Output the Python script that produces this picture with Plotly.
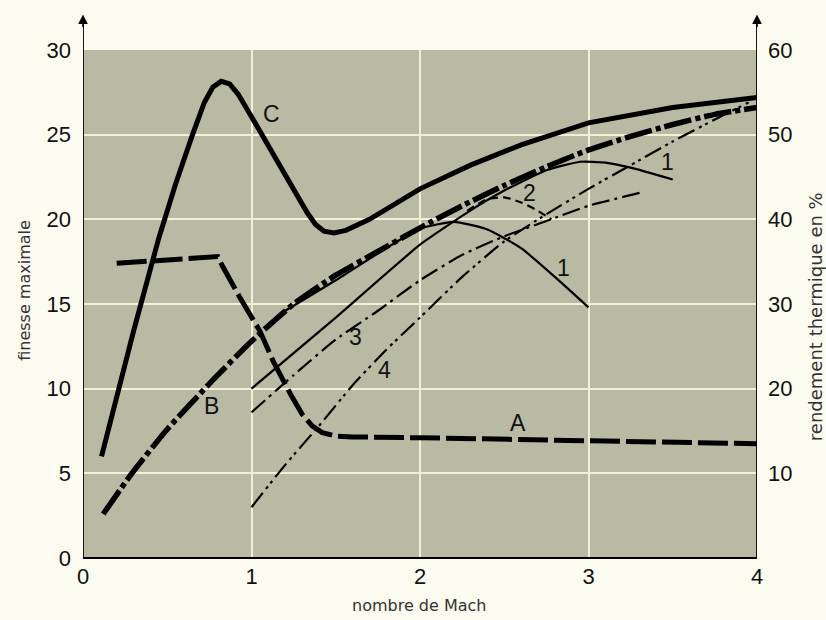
import plotly.graph_objects as go

# ---- data (Mach number vs finesse maximale) ----
c_x = [0.11, 0.3, 0.45, 0.55, 0.65, 0.72, 0.77, 0.82, 0.87, 0.92, 0.98, 1.05, 1.2, 1.33, 1.38, 1.43, 1.49, 1.56, 1.7, 1.85, 2.0, 2.3, 2.6, 3.0, 3.5, 4.0]
c_y = [6.0, 13.4, 18.9, 22.1, 25.0, 26.9, 27.8, 28.15, 28.0, 27.4, 26.4, 25.2, 22.6, 20.4, 19.7, 19.3, 19.2, 19.35, 20.0, 20.9, 21.8, 23.2, 24.4, 25.7, 26.6, 27.2]

b_x = [0.12, 0.29, 0.5, 0.77, 1.0, 1.25, 1.5, 1.75, 2.0, 2.25, 2.5, 2.75, 3.0, 3.25, 3.5, 3.75, 4.0]
b_y = [2.6, 5.0, 7.6, 10.5, 12.8, 15.0, 16.7, 18.1, 19.5, 20.8, 22.0, 23.1, 24.1, 24.9, 25.6, 26.2, 26.6]

a_x = [0.2, 0.5, 0.8, 0.83, 0.93, 1.05, 1.13, 1.23, 1.3, 1.36, 1.42, 1.5, 1.6, 2.0, 2.5, 3.0, 3.5, 4.0]
a_y = [17.4, 17.6, 17.8, 17.2, 15.4, 13.4, 11.6, 9.7, 8.5, 7.8, 7.4, 7.2, 7.15, 7.1, 7.0, 6.9, 6.8, 6.75]

# thin solid curve "1" (lower, peak near Mach 2.2)
l1_x = [1.2, 1.5, 1.8, 2.0, 2.2, 2.4, 2.6, 2.8, 3.0]
l1_y = [14.6, 16.4, 18.3, 19.45, 19.85, 19.4, 18.3, 16.6, 14.8]

# thin solid curve "1" (upper, peak near Mach 2.95)
u1_x = [1.0, 1.5, 2.0, 2.28, 2.5, 2.75, 2.95, 3.1, 3.25, 3.5]
u1_y = [10.0, 14.2, 18.5, 20.4, 21.7, 22.9, 23.4, 23.35, 23.05, 22.35]

# dashed curve "2"
d2_x = [2.28, 2.4, 2.5, 2.6, 2.7, 2.78]
d2_y = [20.5, 21.2, 21.3, 21.0, 20.5, 20.0]

# dash-dot curve "3"
c3_x = [1.0, 1.25, 1.5, 1.75, 2.0, 2.25, 2.5, 2.75, 3.0, 3.32]
c3_y = [8.6, 10.8, 12.9, 14.6, 16.4, 17.9, 19.0, 19.9, 20.8, 21.6]

# dash-dot-dot curve "4"
c4_x = [1.0, 1.2, 1.4, 1.6, 1.8, 2.0, 2.25, 2.5, 2.75, 3.0, 3.25, 3.5, 3.75, 3.95]
c4_y = [3.0, 5.5, 7.8, 10.2, 12.3, 14.2, 16.6, 18.7, 20.3, 21.8, 23.2, 24.6, 25.9, 26.9]

x_ticks = [0, 1, 2, 3, 4]
left_ticks = [0, 5, 10, 15, 20, 25, 30]
right_ticks = [10, 20, 30, 40, 50, 60]

curve_labels = ["C", "B", "A", "3", "4", "1", "2", "1"]
label_x = [1.12, 0.76, 2.58, 1.62, 1.79, 2.85, 2.65, 3.47]
label_y = [26.2, 9.0, 8.0, 13.05, 11.1, 17.1, 21.55, 23.4]

FONT = "Liberation Sans"
TFONT = "DejaVu Sans"
BG = "#b9baa3"
PAPER = "#fcfbef"
GRID = "#f4f0d8"

fig = go.Figure()

def add(x, y, width, dash, shape="linear"):
    fig.add_trace(go.Scatter(x=x, y=y, mode="lines",
                             line=dict(color="black", width=width, dash=dash, shape=shape, smoothing=0.5),
                             showlegend=False, hoverinfo="skip"))

add(c_x, c_y, 5, "solid")
add(b_x, b_y, 5.5, "28px,4px,5px,4px", shape="spline")
add(a_x, a_y, 5, "30px,6px")
add(l1_x, l1_y, 2.2, "solid", shape="spline")
add(u1_x, u1_y, 2.2, "solid", shape="spline")
add(d2_x, d2_y, 2.2, "8px,5px", shape="spline")
add(c3_x, c3_y, 2.2, "18px,5px,3px,5px", shape="spline")
add(c4_x, c4_y, 2.2, "18px,5px,3px,4px,3px,5px", shape="spline")

# invisible trace for secondary axis
fig.add_trace(go.Scatter(x=[0, 4], y=[0, 60], yaxis="y2", mode="lines",
                         line=dict(width=0), opacity=0, showlegend=False, hoverinfo="skip"))

for t, lx, ly in zip(curve_labels, label_x, label_y):
    fig.add_annotation(x=lx, y=ly, text=t, showarrow=False,
                       font=dict(family=FONT, size=23, color="#111"))

# axis arrows (left and right)
for xx in [0, 4]:
    fig.add_shape(type="line", xref="x", yref="paper", x0=xx, x1=xx, y0=0, y1=1.06,
                  line=dict(color="black", width=1.8))
    fig.add_annotation(x=xx, y=1.07, xref="x", yref="paper", text="", showarrow=True,
                       ax=0, ay=14, arrowhead=2, arrowsize=1.2, arrowwidth=1.6, arrowcolor="black")
fig.add_shape(type="line", xref="x", yref="paper", x0=0, x1=4, y0=0, y1=0,
              line=dict(color="black", width=2))

# axis titles
fig.add_annotation(xref="paper", yref="paper", x=-0.086, y=0.526, text="finesse maximale",
                   xanchor="center", yanchor="middle",
                   textangle=-90, showarrow=False, font=dict(family=TFONT, size=16, color="#333"))
fig.add_annotation(xref="paper", yref="paper", x=1.086, y=0.476, text="rendement thermique en %",
                   xanchor="center", yanchor="middle",
                   textangle=-90, showarrow=False, font=dict(family=TFONT, size=18, color="#333"))
fig.add_annotation(xref="paper", yref="paper", x=0.4985, y=-0.094, text="nombre de Mach",
                   xanchor="center", yanchor="middle",
                   showarrow=False, font=dict(family=TFONT, size=16, color="#333"))

fig.update_layout(
    width=826, height=620,
    margin=dict(l=83, r=69, t=50, b=62, autoexpand=False),
    paper_bgcolor=PAPER, plot_bgcolor=BG,
    font=dict(family=FONT, color="#111"),
    xaxis=dict(range=[0, 4], tickvals=x_ticks, showgrid=True, gridcolor=GRID, gridwidth=2,
               zeroline=False, showline=False, ticks="", tickfont=dict(size=22),
               ticklabelstandoff=3, automargin=False),
    yaxis=dict(range=[0, 30], tickvals=left_ticks, showgrid=True, gridcolor=GRID, gridwidth=2,
               zeroline=False, showline=False, ticks="", tickfont=dict(size=22),
               ticklabelstandoff=11, automargin=False),
    yaxis2=dict(range=[0, 60], tickvals=right_ticks, overlaying="y", side="right",
                showgrid=False, zeroline=False, showline=False, ticks="", tickfont=dict(size=22),
                ticklabelstandoff=10, automargin=False),
)

fig.write_html("out.html", config={"displayModeBar": False},
               post_script="document.body.style.margin='0px';document.body.style.background='#fcfbef';")
